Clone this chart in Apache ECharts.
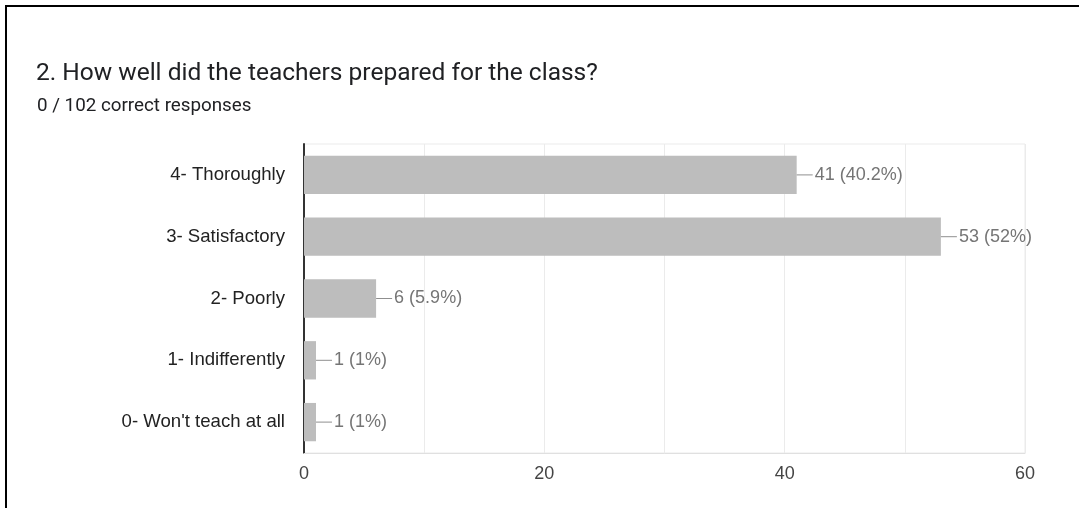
<!DOCTYPE html>
<html>
<head>
<meta charset="utf-8">
<script src="https://cdn.jsdelivr.net/npm/echarts@6/dist/echarts.min.js"></script>
<style>
html,body{margin:0;padding:0;background:#fff;}
#c{width:1079px;height:508px;}
</style>
</head>
<body>
<div id="c"></div>
<script>
const categories = ["4- Thoroughly", "3- Satisfactory", "2- Poorly", "1- Indifferently", "0- Won't teach at all"];
const counts = [41, 53, 6, 1, 1];
const percents = ["40.2%", "52%", "5.9%", "1%", "1%"];
const xTicks = [0, 20, 40, 60];

const chart = echarts.init(document.getElementById('c'), null, {renderer: 'canvas'});
const labelFont = "'Liberation Sans', Arial, sans-serif";
chart.setOption({
  animation: false,
  backgroundColor: '#fff',
  title: [
    {text: '2. How well did the teachers prepared for the class?', left: 31, top: 56,
     textStyle: {fontFamily: 'Roboto', fontSize: 24.5, fontWeight: 'normal', color: '#202124'}},
    {text: '0 / 102 correct responses', left: 32, top: 92,
     textStyle: {fontFamily: 'Roboto', fontSize: 18.8, fontWeight: 'normal', color: '#202124'}}
  ],
  graphic: [
    {type: 'rect', shape: {x: 5, y: 5, width: 2, height: 503}, style: {fill: '#000'}},
    {type: 'rect', shape: {x: 5, y: 5, width: 1074, height: 2}, style: {fill: '#000'}}
  ],
  grid: {left: 304, right: 54, top: 144, bottom: 55, show: true, borderColor: '#ebebeb', borderWidth: 1},
  xAxis: {
    type: 'value', min: 0, max: 60, interval: 10,
    axisLine: {show: true, lineStyle: {color: '#e0e0e0'}},
    axisTick: {show: false},
    splitLine: {show: true, lineStyle: {color: '#ebebeb', width: 1}},
    axisLabel: {
      fontFamily: labelFont, fontSize: 18, color: '#444', margin: 12,
      formatter: v => xTicks.indexOf(v) >= 0 ? String(v) : ''
    }
  },
  yAxis: {
    type: 'category', data: categories, inverse: true,
    axisLine: {show: true, lineStyle: {color: '#333', width: 2}},
    axisTick: {show: false},
    axisLabel: {fontFamily: labelFont, fontSize: 18.6, color: '#222', margin: 19}
  },
  series: [{
    type: 'bar',
    data: counts,
    barCategoryGap: '38%',
    itemStyle: {color: '#bdbdbd'},
    label: {
      show: true, position: 'right', distance: 0,
      formatter: p => '{l|}{v|' + counts[p.dataIndex] + ' (' + percents[p.dataIndex] + ')}',
      rich: {
        l: {width: 16, height: 1, backgroundColor: '#8f8f8f', verticalAlign: 'middle'},
        v: {fontFamily: labelFont, fontSize: 18, color: '#757575', verticalAlign: 'middle', padding: [0, 0, 0, 2]}
      }
    }
  }]
});
</script>
</body>
</html>
